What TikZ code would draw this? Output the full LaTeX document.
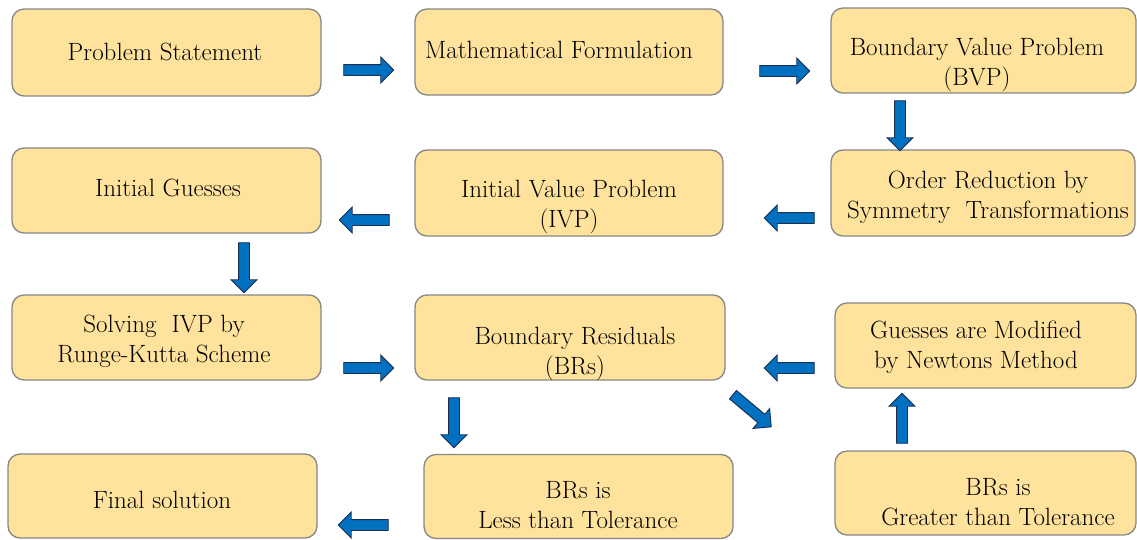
\documentclass[tikz,border=0pt]{standalone}
\usetikzlibrary{shapes.arrows}
\definecolor{boxfill}{RGB}{255,226,155}
\definecolor{boxline}{RGB}{135,135,135}
\definecolor{arrfill}{RGB}{0,112,192}
\definecolor{arrline}{RGB}{30,45,80}
\begin{document}
\begin{tikzpicture}[x=1pt,y=-1pt,
  box/.style={draw=boxline, fill=boxfill, line width=1.3pt, rounded corners=12pt, inner sep=0pt},
  txt/.style={inner sep=0pt, align=center, text=black, font=\rmfamily\fontsize{25}{30}\selectfont},
  barrow/.style={single arrow, draw=arrline, fill=arrfill, line width=0.9pt,
    minimum height=50pt, minimum width=25pt, inner xsep=0pt, inner ysep=5pt,
    single arrow head extend=7.5pt, single arrow tip angle=90}]
\useasboundingbox (0,0) rectangle (1137,539);
% boxes
\node[box, minimum width=309pt, minimum height=87pt] (b1) at (166.5,52.5) {};
\node[box, minimum width=308pt, minimum height=86pt] (b2) at (569,52) {};
\node[box, minimum width=305pt, minimum height=85pt] (b3) at (983.5,50.5) {};
\node[box, minimum width=309pt, minimum height=85pt] (b4) at (166.5,190.5) {};
\node[box, minimum width=308pt, minimum height=86pt] (b5) at (569,193) {};
\node[box, minimum width=304pt, minimum height=86pt] (b6) at (983,193) {};
\node[box, minimum width=309pt, minimum height=85pt] (b7) at (166.5,337.5) {};
\node[box, minimum width=310pt, minimum height=85pt] (b8) at (570,337.5) {};
\node[box, minimum width=301pt, minimum height=85pt] (b9) at (985.5,345.5) {};
\node[box, minimum width=309pt, minimum height=84pt] (b10) at (162.5,496) {};
\node[box, minimum width=309pt, minimum height=84pt] (b11) at (578.5,496.5) {};
\node[box, minimum width=301pt, minimum height=84pt] (b12) at (985.5,493) {};
% texts
\node[txt] (t1) at (165,52) {Problem Statement};
\node[txt] (t2) at (559,50) {Mathematical Formulation};
\node[txt] (t3) at (977,65) {Boundary Value Problem\\(BVP)};
\node[txt] (t4) at (168,188) {Initial Guesses};
\node[txt] (t5) at (569,207) {Initial Value Problem\\(IVP)};
\node[txt] (t6) at (988,197) {Order Reduction by\\Symmetry~ Transformations};
\node[txt] (t7) at (164,341) {Solving~ IVP by\\Runge-Kutta Scheme};
\node[txt] (t8) at (575,354) {Boundary Residuals\\(BRs)};
\node[txt] (t9) at (976,347) {Guesses are Modified\\by Newtons Method};
\node[txt] (t10) at (162,500) {Final solution};
\node[txt] (t11) at (578,505) {BRs is\\Less than Tolerance};
\node[txt] (t12) at (998,502) {BRs is\\Greater than Tolerance};
% block arrows
\node[barrow] (a1) at (366,70) {};
\node[barrow] (a2) at (782,71) {};
\node[barrow, rotate=-90] (a3) at (900,123) {};
\node[barrow, rotate=180] (a4) at (792,218) {};
\node[barrow, rotate=180] (a5) at (367,220) {};
\node[barrow, rotate=-90] (a6) at (244,265) {};
\node[barrow] (a7) at (366,368) {};
\node[barrow, rotate=180] (a8) at (792,368) {};
\node[barrow, rotate=-40] (a9) at (750,409) {};
\node[barrow, rotate=-90] (a10) at (454,420) {};
\node[barrow, rotate=180] (a11) at (366,525) {};
\node[barrow, rotate=90] (a12) at (902,421) {};
\end{tikzpicture}
\end{document}
